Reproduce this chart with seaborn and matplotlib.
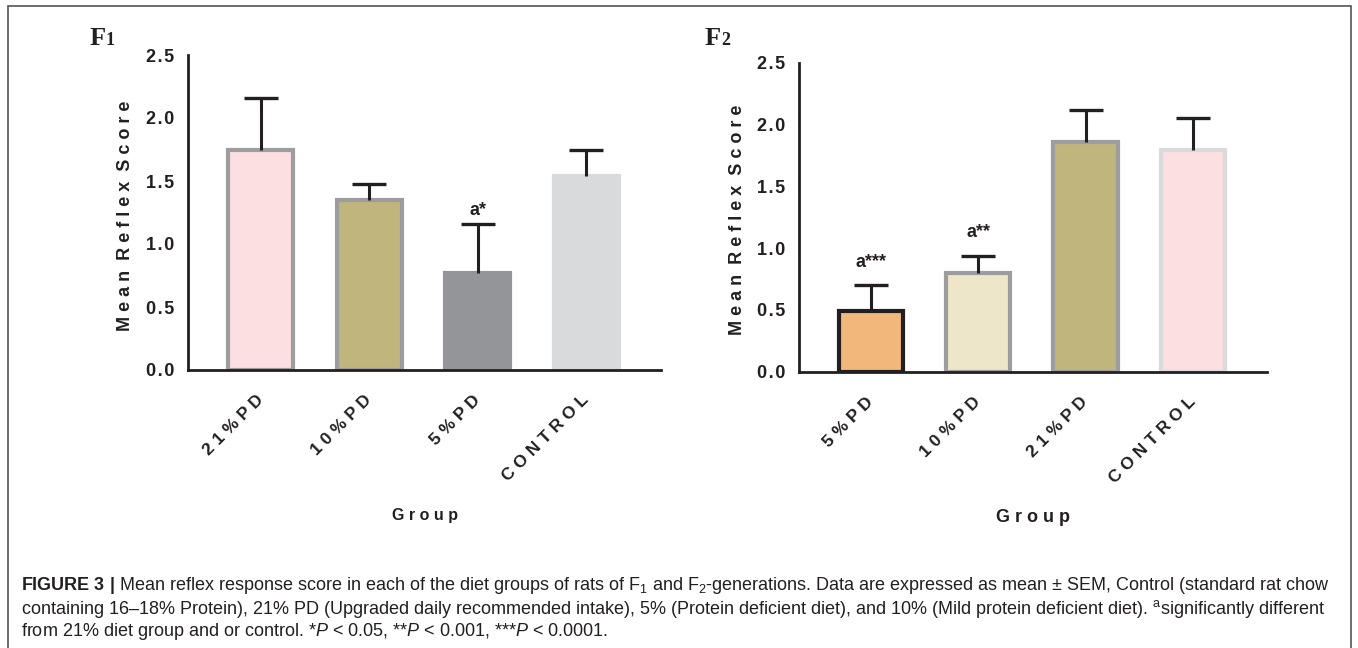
import numpy as np
import pandas as pd
import seaborn as sns
import matplotlib.pyplot as plt
from matplotlib.patches import Rectangle

# F1 generation
f1_groups = ['21% PD', '10% PD', '5% PD', 'CONTROL']
f1_mean = [1.75, 1.35, 0.77, 1.54]
f1_sem = [0.41, 0.13, 0.39, 0.21]
f1_fill = ['#fbdfe1', '#c0b57c', '#939598', '#d9dadc']
f1_edge = ['#9d9d9f', '#9d9d9f', '#939598', '#d9dadc']
f1_marks = ['', '', 'a*', '']

# F2 generation
f2_groups = ['5% PD', '10% PD', '21% PD', 'CONTROL']
f2_mean = [0.49, 0.80, 1.86, 1.79]
f2_sem = [0.21, 0.14, 0.26, 0.26]
f2_fill = ['#f2b77b', '#ede6c9', '#c0b57c', '#fbdfe1']
f2_edge = ['#231f20', '#9d9d9f', '#9d9d9f', '#d9dadc']
f2_marks = ['a***', 'a**', '', '']

y_ticks = [0.0, 0.5, 1.0, 1.5, 2.0, 2.5]

caption = [
    r'$\mathbf{FIGURE\ 3\ |}$ Mean reflex response score in each of the diet groups of rats of F$_1$ and '
    r'F$_2$-generations. Data are expressed as mean ± SEM, Control (standard rat chow',
    r'containing 16–18% Protein), 21% PD (Upgraded daily recommended intake), 5% (Protein deficient diet), '
    r'and 10% (Mild protein deficient diet). $^{\mathrm{a}}$significantly different',
    r'from 21% diet group and or control. *$P$ < 0.05, **$P$ < 0.001, ***$P$ < 0.0001.',
]

INK = '#231f20'

sns.set_style('white')
plt.rcParams['font.family'] = ['Liberation Sans', 'DejaVu Sans']
plt.rcParams['mathtext.fontset'] = 'custom'
plt.rcParams['mathtext.rm'] = 'Liberation Sans'
plt.rcParams['mathtext.it'] = 'Liberation Sans:italic'
plt.rcParams['mathtext.bf'] = 'Liberation Sans:bold'


def spaced(s, sep=' ', gap=1):
    # letter tracking like the original figure
    return (' ' * gap).join(sep.join(w) for w in s.split(' '))


def draw_panel(ax, groups, mean, sem, fill, edge, marks, mark_off, xlabel_size, label_xy):
    df = pd.DataFrame({'group': groups, 'mean': mean})
    sns.barplot(data=df, x='group', y='mean', hue='group', order=groups, hue_order=groups,
                palette=dict(zip(groups, fill)), legend=False, width=0.6,
                saturation=1, errorbar=None, linewidth=3, ax=ax)
    for patch, ec in zip(ax.patches, edge):
        patch.set_edgecolor(ec)

    x = np.arange(len(groups))
    eb = ax.errorbar(x, mean, yerr=[np.zeros(len(groups)), sem], fmt='none', ecolor=INK,
                     elinewidth=2.2, capsize=12.5, capthick=2.4, zorder=3)
    eb.lines[1][0].set_visible(False)  # no lower cap

    for xi, m, s, t in zip(x, mean, sem, marks):
        if t:
            ax.annotate(t, (xi, m + s), xytext=(0, mark_off), textcoords='offset points',
                        ha='center', va='bottom', fontsize=13, fontweight='bold', color=INK)

    ax.set_xlim(-0.67, 3.69)
    ax.set_ylim(0, 2.5)
    ax.set_yticks(y_ticks)
    ax.set_yticklabels([spaced(f'{v:.1f}', sep='\u200a') for v in y_ticks],
                       fontsize=13, fontweight='bold', color=INK)
    ax.set_xticks(x)
    ax.set_xticklabels([spaced(g) for g in groups], rotation=45, ha='right', va='center',
                       rotation_mode='anchor', fontsize=12.5, fontweight='bold', color=INK)
    ax.tick_params(axis='both', direction='out', length=6, width=2, color=INK)
    ax.tick_params(axis='y', pad=4)
    ax.tick_params(axis='x', pad=14)

    sns.despine(ax=ax)
    for side in ['left', 'bottom']:
        ax.spines[side].set_linewidth(2)
        ax.spines[side].set_color(INK)

    ax.set_ylabel(spaced('Mean Reflex Score', gap=2), fontsize=13, fontweight='bold', color=INK)
    ax.set_xlabel(spaced('Group'), fontsize=xlabel_size, fontweight='bold', color=INK)
    ax.yaxis.set_label_coords(label_xy[0], 0.49)
    ax.xaxis.set_label_coords(0.5, label_xy[1])
    ax.yaxis.label.set_va('center')
    ax.xaxis.label.set_va('center')


W, H = 1358, 648
fig = plt.figure(figsize=(W / 100, H / 100), dpi=100)

ax1 = fig.add_axes([188 / W, 1 - 370 / H, 473 / W, 315 / H])
ax2 = fig.add_axes([799 / W, 1 - 371.7 / H, 468 / W, 309 / H])

draw_panel(ax1, f1_groups, f1_mean, f1_sem, f1_fill, f1_edge, f1_marks, 3.5, 11.5, (-0.133, -0.463))
draw_panel(ax2, f2_groups, f2_mean, f2_sem, f2_fill, f2_edge, f2_marks, 10.5, 13, (-0.132, -0.473))

# panel letters
for px, sub in [(90, '1'), (705, '2')]:
    fig.text(px / W, 1 - 45 / H, 'F', fontsize=19, fontweight='bold', family='Liberation Serif',
             color=INK, va='baseline')
    fig.text((px + 16) / W, 1 - 45 / H, sub, fontsize=13, fontweight='bold', family='Liberation Serif',
             color=INK, va='baseline')

# caption
for i, line in enumerate(caption):
    fig.text(21 / W, 1 - (586 + 23 * i) / H, line, fontsize=13, color=INK, va='center')

# frame around figure
fig.add_artist(Rectangle((8 / W, -0.02), (1351 - 8) / W, 1.02 - 6 / H, transform=fig.transFigure,
                         fill=False, edgecolor='#555555', linewidth=1.2))

fig.savefig('out.png', dpi=100)
